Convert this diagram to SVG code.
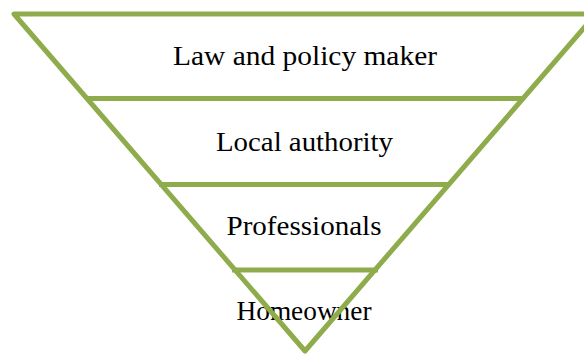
<svg xmlns="http://www.w3.org/2000/svg" width="584" height="354" viewBox="0 0 584 354">
  <style>
    .lbl { font-family: "Liberation Serif", "Times New Roman", serif; font-size: 27px; fill: #000; text-anchor: middle; }
    .edge { stroke: #8FAC4C; stroke-width: 5; fill: none; }
  </style>
  <rect width="584" height="354" fill="#fff"/>
  <g id="level-law">
    <text class="lbl" x="305" y="65" textLength="264" lengthAdjust="spacingAndGlyphs">Law and policy maker</text>
  </g>
  <g id="level-local">
    <text class="lbl" x="304.5" y="151" textLength="177" lengthAdjust="spacingAndGlyphs">Local authority</text>
  </g>
  <g id="level-professionals">
    <text class="lbl" x="304" y="234.5" textLength="155" lengthAdjust="spacingAndGlyphs">Professionals</text>
  </g>
  <g id="level-homeowner">
    <text class="lbl" x="304" y="319.5" textLength="135" lengthAdjust="spacingAndGlyphs">Homeowner</text>
  </g>
  <g id="connectors">
    <polygon class="edge" points="14,14 596,14 305,351" stroke-linejoin="round"/>
    <line class="edge" x1="86" y1="98.5" x2="523" y2="98.5"/>
    <line class="edge" x1="159" y1="184.5" x2="450" y2="184.5"/>
    <line class="edge" x1="232" y1="270" x2="378" y2="270"/>
  </g>
</svg>
